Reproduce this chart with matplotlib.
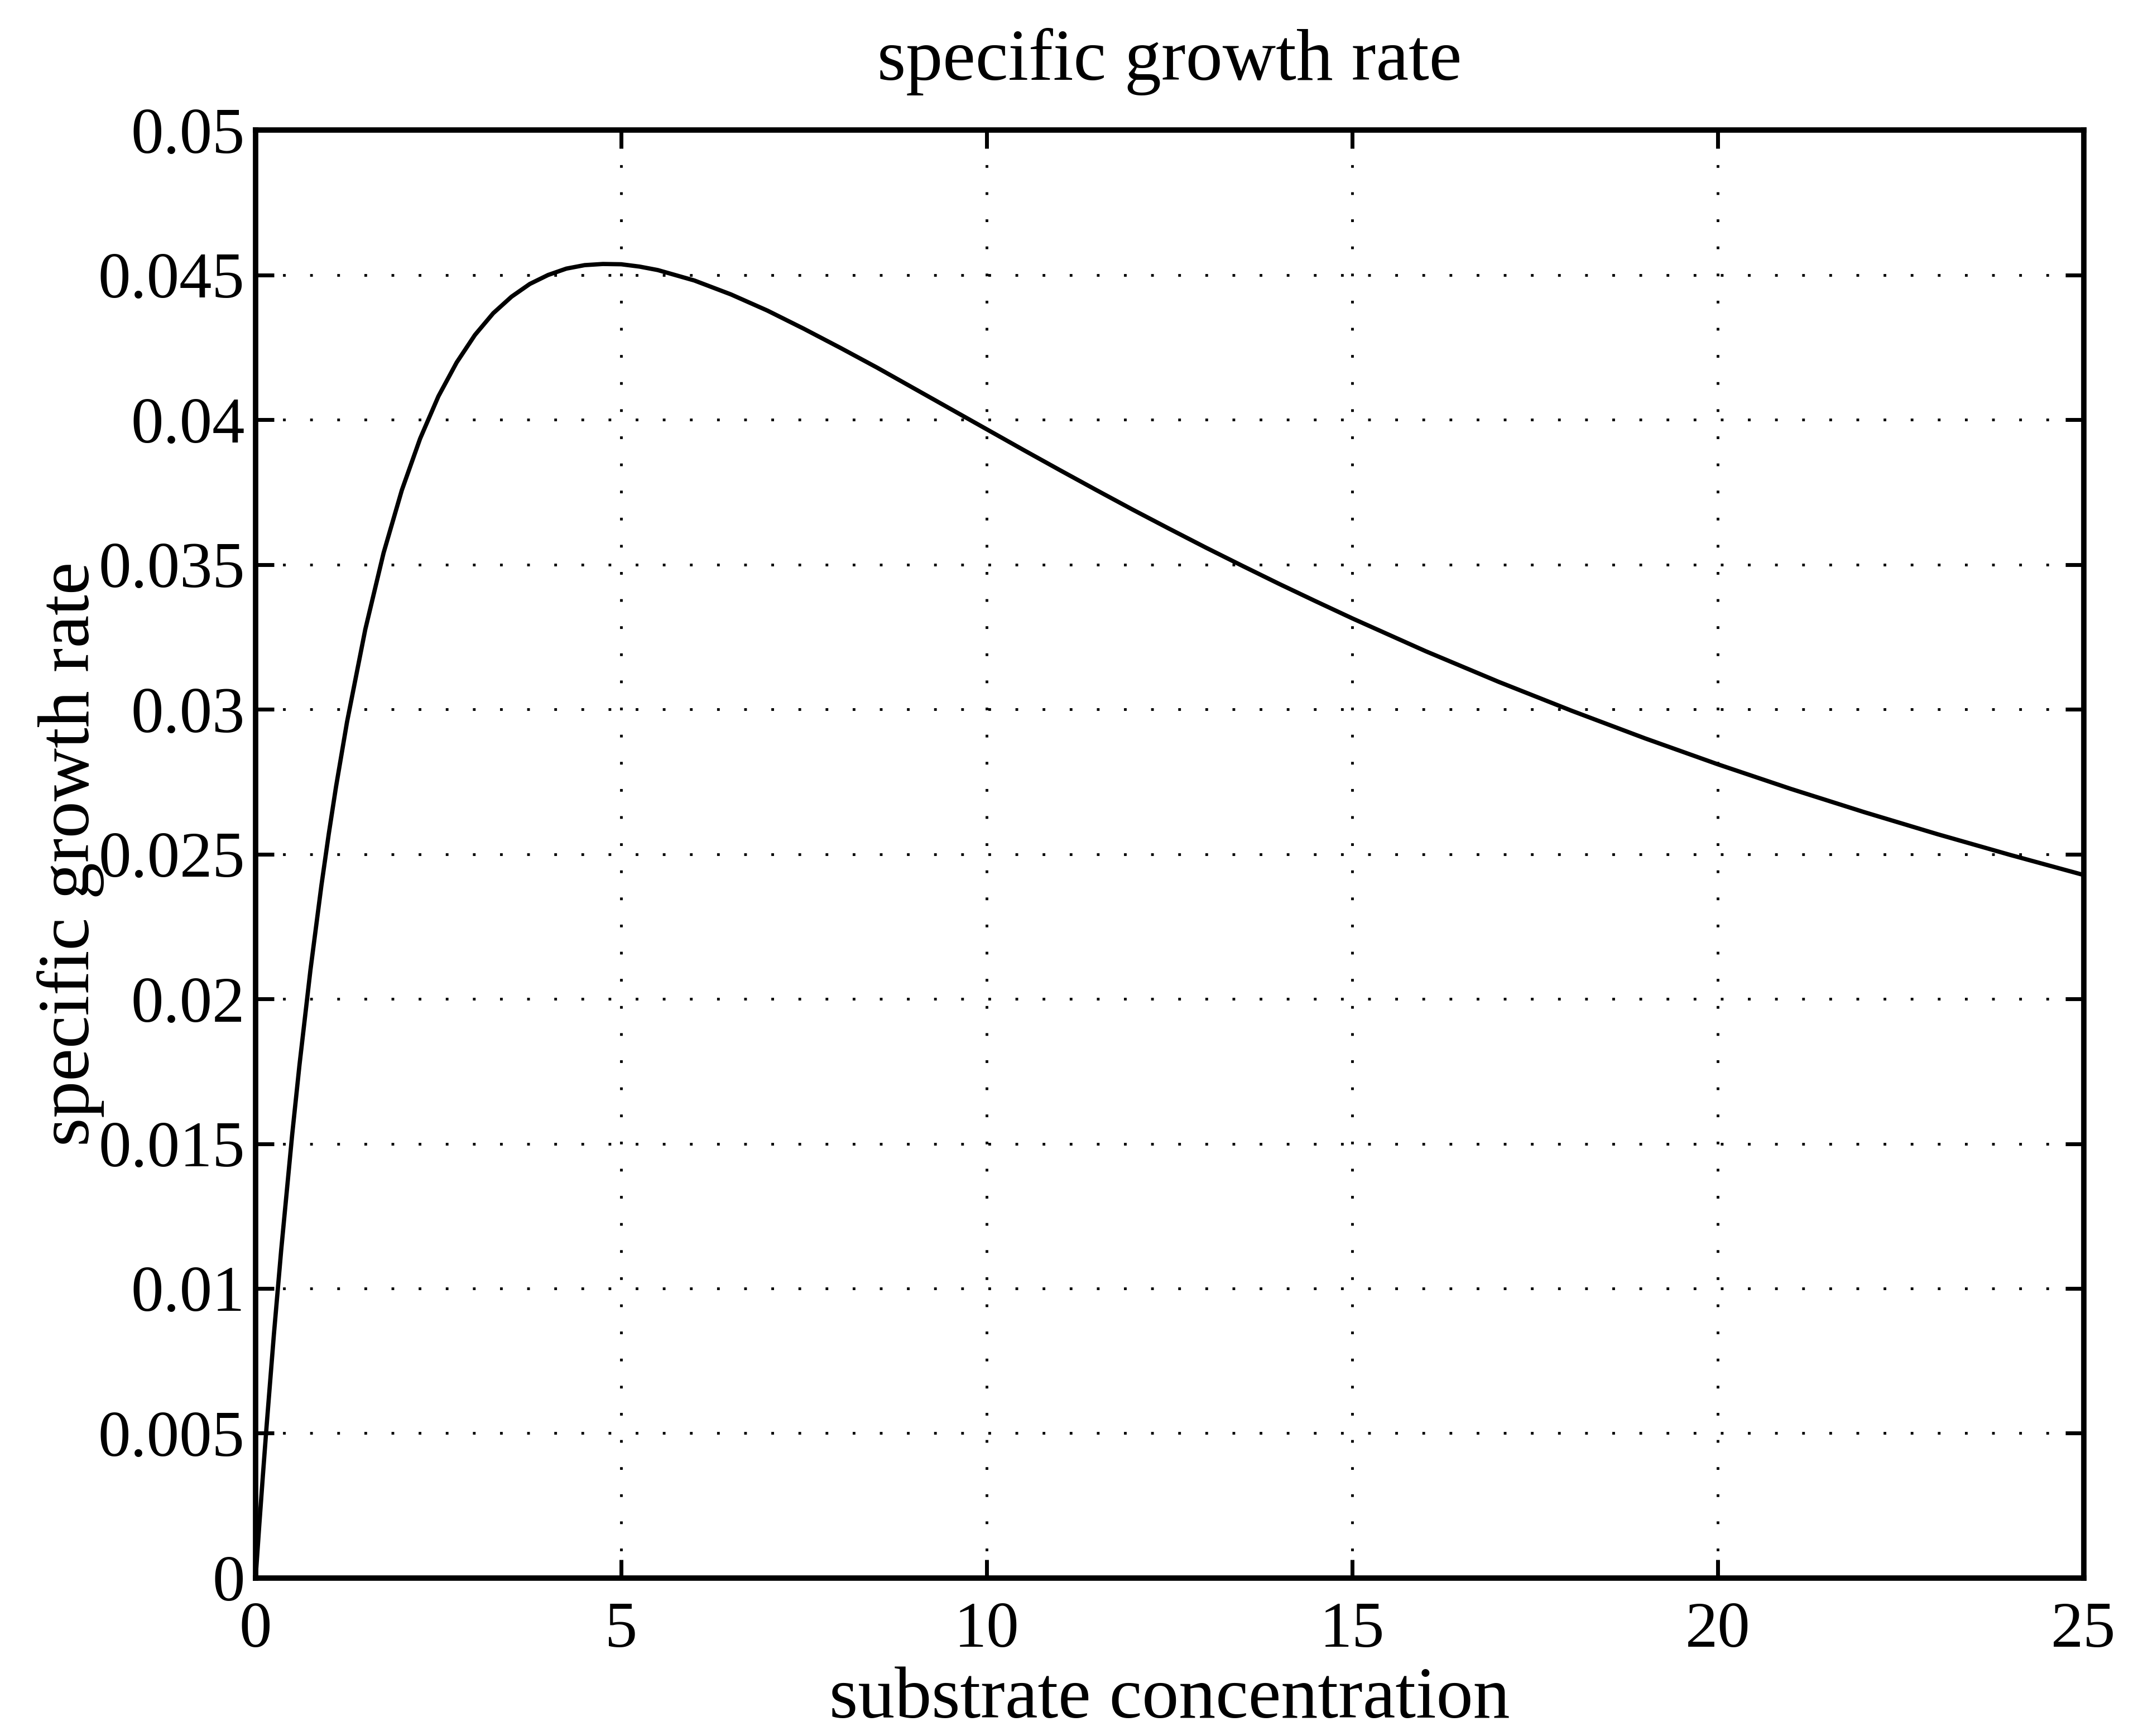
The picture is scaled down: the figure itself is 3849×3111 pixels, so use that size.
import matplotlib
matplotlib.use("Agg")
import matplotlib.pyplot as plt

# values
substrate = [0, 0.05, 0.1, 0.15, 0.25, 0.35, 0.5, 0.6, 0.75, 0.9, 1, 1.1, 1.25, 1.5, 1.75, 2, 2.25, 2.5,
             2.75, 3, 3.25, 3.5, 3.75, 4, 4.25, 4.5, 4.75, 5, 5.25, 5.5, 6, 6.5, 7, 7.5, 8, 8.5, 9, 9.5,
             10, 10.5, 11, 11.5, 12, 12.5, 13, 13.5, 14, 14.5, 15, 16, 17, 18, 19, 20, 21, 22, 23, 24, 25]
growth = [0.0, 0.00182, 0.00356, 0.00524, 0.00841, 0.01133, 0.01531, 0.01772, 0.02100, 0.02392,
          0.02569, 0.02733, 0.02956, 0.03276, 0.03540, 0.03757, 0.03935, 0.04081,
          0.04198, 0.04293, 0.04368, 0.04425, 0.04469, 0.04500, 0.04522, 0.04534, 0.04538, 0.04537,
          0.04529, 0.04517, 0.04481, 0.04433, 0.04377, 0.04314, 0.04248, 0.04180, 0.04109, 0.04038,
          0.03967, 0.03896, 0.03826, 0.03757, 0.03689, 0.03623, 0.03558, 0.03495, 0.03433, 0.03373,
          0.03314, 0.03201, 0.03095, 0.02995, 0.02900, 0.02810, 0.02725, 0.02645, 0.02569, 0.02497,
          0.02428]
xticks = [0, 5, 10, 15, 20, 25]
yticks = [0, 0.005, 0.01, 0.015, 0.02, 0.025, 0.03, 0.035, 0.04, 0.045, 0.05]
ytick_labels = ["0", "0.005", "0.01", "0.015", "0.02", "0.025", "0.03", "0.035", "0.04", "0.045", "0.05"]

plt.rcParams['font.family'] = ['Liberation Serif', 'DejaVu Serif']
fs = 84
fl = 95

fig = plt.figure(figsize=(38.49, 31.11), dpi=100)
ax = fig.add_axes([0.119, 0.091, 0.851, 0.834])
ax.plot(substrate, growth, color='black', linewidth=5.5)
ax.set_xlim(0, 25)
ax.set_ylim(0, 0.05)
ax.set_xticks(xticks)
ax.set_xticklabels([str(v) for v in xticks])
ax.set_yticks(yticks)
ax.set_yticklabels(ytick_labels)
ax.tick_params(direction='in', length=24, width=5, labelsize=fs, pad=14,
               top=True, right=True, colors='black')
ax.tick_params(axis='x', pad=30)
ax.grid(True, color='black', linestyle=(0, (1, 9)), linewidth=3.5)
for s in ax.spines.values():
    s.set_linewidth(7)
    s.set_color('black')
ax.set_title("specific growth rate", fontsize=fl, pad=65)
ax.set_xlabel("substrate concentration", fontsize=fl, labelpad=8)
ax.set_ylabel("specific growth rate", fontsize=fl, labelpad=-8)
fig.savefig("out.png", dpi=100, facecolor='white')
